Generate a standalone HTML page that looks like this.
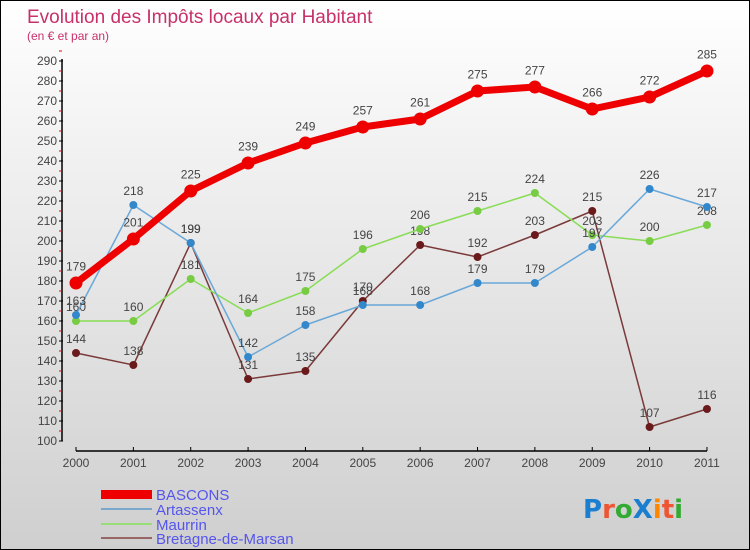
<!DOCTYPE html>
<html><head><meta charset="utf-8"><style>
body{margin:0;}
#c{position:relative;width:748px;height:548px;border:1px solid #000;background:linear-gradient(#fff,#f0f0f0 30%,#cfcfcf);overflow:hidden;font-family:"DejaVu Sans","Liberation Sans",sans-serif;}
</style></head><body>
<div id="c">
<svg id="s" width="748" height="548" style="position:absolute;left:0;top:0">
<text x="26" y="22" font-size="19" fill="#c8306a" font-family="Liberation Sans, sans-serif">Evolution des Impôts locaux par Habitant</text>
<text x="26" y="39" font-size="12" fill="#c8306a" font-family="Liberation Sans, sans-serif">(en € et par an)</text>
<g id="axes"></g><g id="series"></g>
<g font-family="Liberation Sans, sans-serif" font-size="15" fill="#5555ee">
<rect x="100" y="489" width="51" height="9" fill="#e00"/>
<text x="155" y="499">BASCONS</text>
<line x1="100" y1="508" x2="151" y2="508" stroke="#7aa8cc" stroke-width="2"/>
<text x="155" y="514">Artassenx</text>
<line x1="100" y1="523" x2="151" y2="523" stroke="#99dd77" stroke-width="2"/>
<text x="155" y="529">Maurrin</text>
<line x1="100" y1="537" x2="151" y2="537" stroke="#996666" stroke-width="2"/>
<text x="155" y="543">Bretagne-de-Marsan</text>
</g>
<text x="582" y="517" font-size="26" font-family="DejaVu Sans, sans-serif" font-weight="bold"><tspan fill="#1a7fd0">P</tspan><tspan fill="#e53">r</tspan><tspan fill="#3a3">o</tspan><tspan fill="#1a7fd0">X</tspan><tspan fill="#f80">i</tspan><tspan fill="#e53">t</tspan><tspan fill="#3a3">i</tspan></text>
</svg>
</div>
<script>
const years=[2000,2001,2002,2003,2004,2005,2006,2007,2008,2009,2010,2011];
const bascons=[179,201,225,239,249,257,261,275,277,266,272,285];
const artassenx=[163,218,199,142,158,168,168,179,179,197,226,217];
const maurrin=[160,160,181,164,175,196,206,215,224,203,200,208];
const bretagne=[144,138,199,131,135,170,198,192,203,215,107,116];
const yTicks=[100,110,120,130,140,150,160,170,180,190,200,210,220,230,240,250,260,270,280,290];
const NS="http://www.w3.org/2000/svg";
function X(i){return 75+i*57.36;}
function Y(v){return 240-(v-200)*2;}
function mk(t,a,p){const e=document.createElementNS(NS,t);for(const k in a)e.setAttribute(k,a[k]);if(p)p.appendChild(e);return e;}
const ax=document.getElementById('axes'),sg=document.getElementById('series');
let l=mk('line',{x1:61,y1:Y(290)-2,x2:61,y2:Y(100),stroke:'#000','stroke-width':1.5},ax);


yTicks.forEach(v=>{
 mk('line',{x1:58,y1:Y(v),x2:62,y2:Y(v),stroke:'#000'},ax);
 mk('line',{x1:58,y1:Y(v+5),x2:61,y2:Y(v+5),stroke:'#e00'},ax);
 const t=mk('text',{x:56,y:Y(v)+4,'text-anchor':'end','font-size':12,fill:'#444','font-family':'Liberation Sans, sans-serif'},ax);
 t.textContent=v;
 
 
});
l=mk('line',{x1:75,y1:450,x2:X(11),y2:450,stroke:'#000','stroke-width':1.5},ax);


years.forEach((yr,i)=>{
 mk('line',{x1:X(i),y1:446,x2:X(i),y2:450,stroke:'#000'},ax);
 const t=mk('text',{x:X(i),y:466,'text-anchor':'middle','font-size':12,fill:'#444','font-family':'Liberation Sans, sans-serif'},ax);
 t.textContent=yr;
 
 
});
function series(name,data,col,dot,w,r){
 const g=mk('g',{},sg);
 
 
 const p=mk('polyline',{points:data.map((v,i)=>X(i)+','+Y(v)).join(' '),fill:'none',stroke:col,'stroke-width':w,'stroke-linejoin':'round'},g);
 
 
 data.forEach((v,i)=>{
  const c=mk('circle',{cx:X(i),cy:Y(v),r:r,fill:dot},g);
  
  
  const t=mk('text',{x:X(i),y:Y(v)-(r+6),'text-anchor':'middle','font-size':12,fill:'#444','font-family':'Liberation Sans, sans-serif'},g);
  t.textContent=v;
  
  
 });
}
series('bretagne',bretagne,'#7a3a3a','#6a1a1a',1.5,4);
series('maurrin',maurrin,'#88dd55','#77cc44',1.5,4);
series('artassenx',artassenx,'#6aa8d8','#3388cc',1.5,4);
series('bascons',bascons,'#ee0000','#ee0000',7,6.5);
</script>
</body></html>
